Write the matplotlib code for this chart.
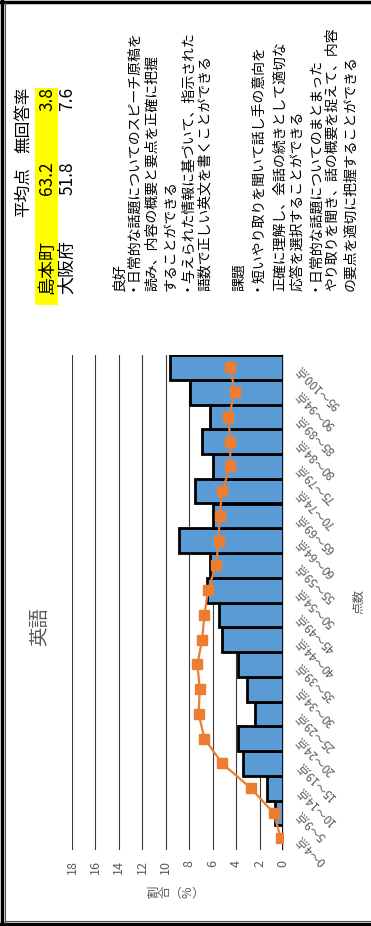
import numpy as np
import matplotlib
matplotlib.use("Agg")
import matplotlib.pyplot as plt
from matplotlib.patches import Rectangle
from matplotlib.lines import Line2D

plt.rcParams['font.family'] = ['Noto Sans CJK JP', 'DejaVu Sans']

W, H = 371, 926

# 得点分布（割合 %）
categories = ['0～4点', '5～9点', '10～14点', '15～19点', '20～24点', '25～29点',
              '30～34点', '35～39点', '40～44点', '45～49点', '50～54点', '55～59点',
              '60～64点', '65～69点', '70～74点', '75～79点', '80～84点', '85～89点',
              '90～94点', '95～100点']
shimamoto = [0.0, 0.7, 1.4, 3.4, 3.8, 2.4, 3.1, 3.8, 5.2, 5.45,
             6.5, 6.2, 8.9, 5.95, 7.5, 5.95, 6.9, 6.2, 7.9, 9.65]
osaka = [0.2, 0.8, 2.75, 5.2, 6.7, 7.2, 7.1, 7.3, 6.9, 6.7,
         6.4, 5.7, 5.5, 5.4, 5.2, 4.5, 4.5, 4.65, 4.1, 4.5]
value_ticks = [0, 2, 4, 6, 8, 10, 12, 14, 16, 18]

# 平均点・無回答率
regions = ['島本町', '大阪府']
averages = ['63.2', '51.8']
no_answer = ['3.8', '7.6']

good_lines = ['・日常的な話題についてのスピーチ原稿を',
              '読み、内容の概要と要点を正確に把握',
              'することができる',
              '・与えられた情報に基づいて、指示された',
              '語数で正しい英文を書くことができる']
issue_lines = ['・短いやり取りを聞いて話し手の意向を',
               '正確に理解し、会話の続きとして適切な',
               '応答を選択することができる',
               '・日常的な話題についてのまとまった',
               'やり取りを聞き、話の概要を捉えて、内容',
               'の要点を適切に把握することができる']


def px(x, y):
    return x / W, 1 - y / H


NOTE_SIZE = 10


def ink_offset(s, size=NOTE_SIZE):
    # 縦書き(90°回転)の行の字面中心とベースラインのずれをピクセルで測る
    f = plt.figure(figsize=(1, 4), dpi=100)
    f.text(0.5, 0.05, s, rotation=90, rotation_mode='anchor',
           ha='left', va='baseline', fontsize=size)
    f.canvas.draw()
    a = np.asarray(f.canvas.buffer_rgba())[:, :, 0]
    plt.close(f)
    cols = np.where((a < 160).any(axis=0))[0]
    if len(cols) == 0:
        return 0.0
    return (cols.min() + cols.max() + 1) / 2 - 50


fig = plt.figure(figsize=(W / 100, H / 100), dpi=100)
fig.patch.set_facecolor('white')

gray = '#595959'
ax = fig.add_axes([72 / W, 1 - 850 / H, (283 - 72) / W, (850 - 355) / H])
y = np.arange(len(categories))
ax.barh(y, shimamoto, height=1.0, color='#5b9bd5', edgecolor='black',
        linewidth=2.0, zorder=3)
ax.plot(osaka, y, color='#ed7d31', lw=1.6, marker='s', markersize=6.5,
        zorder=4)

ax.set_xlim(18, 0)
ax.set_ylim(-0.5, len(categories) - 0.5)
ax.set_xticks(value_ticks)
ax.set_xticklabels([str(v) for v in value_ticks], rotation=90, color=gray,
                   fontsize=9)
ax.tick_params(axis='x', length=0, pad=7)
ax.grid(axis='x', color='#3a3a3a', lw=0.8, zorder=0)
ax.yaxis.tick_right()
ax.set_yticks(y)
ax.set_yticklabels(categories, rotation=135, rotation_mode='anchor',
                   ha='right', va='center', color=gray, fontsize=8.5)
ax.tick_params(axis='y', length=0, pad=11)
for s in ['top', 'bottom', 'left']:
    ax.spines[s].set_visible(False)
ax.spines['right'].set_color('#d9d9d9')
ax.spines['right'].set_linewidth(1.5)
ax.spines['right'].set_zorder(2)

# チャートのタイトルと軸ラベル
fig.text(*px(40, 627), '英語', rotation=90, ha='center', va='center',
         fontsize=14, color=gray)
fig.text(*px(177, 892), '割\n合\n︵\n%\n︶', rotation=90, ha='center',
         va='center', fontsize=9, color=gray, linespacing=0.85)
fig.text(*px(359, 601), '点数', rotation=90, ha='center', va='center',
         fontsize=9, color=gray)

# 平均点の表
fig.add_artist(Rectangle(px(35, 305), 23 / W, (305 - 88) / H,
                         transform=fig.transFigure, color='#ffff00', lw=0))
fig.text(*px(24, 192), '平均点', rotation=90, ha='center', va='center',
         fontsize=12)
fig.text(*px(24, 120), '無回答率', rotation=90, ha='center', va='center',
         fontsize=12)
for i, (r, a, n) in enumerate(zip(regions, averages, no_answer)):
    xc = 47 + i * 20
    fig.text(*px(xc, 267), r, rotation=90, ha='center', va='center',
             fontsize=13)
    fig.text(*px(xc, 178), a, rotation=90, ha='center', va='center',
             fontsize=12.5)
    fig.text(*px(xc, 99), n, rotation=90, ha='center', va='center',
             fontsize=12.5)


# 良好・課題のコメント（x は行の字面中心）
def note(x, s):
    xb = x - ink_offset(s)
    fig.text(*px(xb, 291), s, rotation=90, rotation_mode='anchor',
             ha='left', va='baseline', fontsize=NOTE_SIZE)


note(118, '良好')
for x, s in zip([134, 151, 169, 187.5, 204], good_lines):
    note(x, s)
note(238, '課題')
for x, s in zip([257.5, 279, 296, 316, 331, 349], issue_lines):
    note(x, s)

# 外枠
for xs, ys in [([1.5, 1.5], [0, H]), ([0, W], [1.5, 1.5]),
               ([0, W], [H - 2, H - 2])]:
    fig.add_artist(Line2D([v / W for v in xs], [1 - v / H for v in ys],
                          transform=fig.transFigure, color='black', lw=2.5))
fig.add_artist(Line2D([5 / W, 5 / W], [1 - 3 / H, 1 - (H - 3) / H],
                      transform=fig.transFigure, color='#555555', lw=0.8))
fig.add_artist(Line2D([5 / W, 1], [1 - (H - 5) / H, 1 - (H - 5) / H],
                      transform=fig.transFigure, color='#555555', lw=0.8))

fig.savefig('out.png', dpi=100)
plt.close(fig)
